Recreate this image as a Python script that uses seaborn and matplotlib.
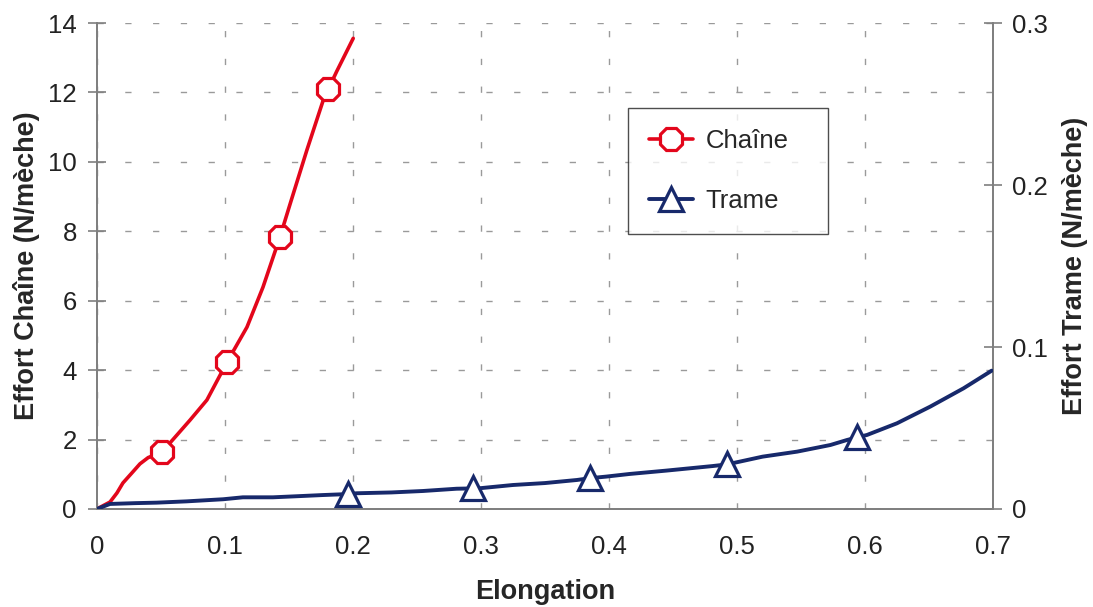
import matplotlib
matplotlib.use("Agg")
import matplotlib.pyplot as plt
from matplotlib.lines import Line2D
import seaborn as sns
import pandas as pd

# Chaine curve (left axis, N/meche)
chaine_x = [0, 0.0102, 0.0156, 0.0203, 0.0271, 0.0336, 0.040, 0.0508, 0.0727, 0.0859, 0.1016,
            0.1172, 0.1297, 0.143, 0.151, 0.164, 0.1768, 0.1807, 0.1872, 0.1937, 0.2002]
chaine_y = [0, 0.20, 0.46, 0.75, 1.03, 1.30, 1.48, 1.64, 2.56, 3.14, 4.23,
            5.24, 6.39, 7.84, 8.80, 10.34, 11.78, 12.09, 12.60, 13.08, 13.56]
chaine_marks = [7, 10, 13, 17]

# Trame curve (right axis, N/meche)
trame_x = [0, 0.0102, 0.03, 0.0466, 0.07, 0.0986, 0.114, 0.1375, 0.16, 0.1766, 0.196, 0.203,
           0.23, 0.2547, 0.281, 0.294, 0.299, 0.325, 0.35, 0.375, 0.385, 0.398, 0.416, 0.445,
           0.481, 0.492, 0.502, 0.520, 0.547, 0.573, 0.586, 0.594, 0.6016, 0.625, 0.651, 0.677, 0.699]
trame_y = [0, 0.0031, 0.0036, 0.0039, 0.0047, 0.0060, 0.0072, 0.0072, 0.0080, 0.0086, 0.0092, 0.0097,
           0.0102, 0.0111, 0.0125, 0.0127, 0.0128, 0.0148, 0.0160, 0.0179, 0.0190, 0.0200, 0.0216, 0.0237,
           0.0265, 0.0275, 0.0292, 0.0323, 0.0354, 0.0395, 0.0426, 0.0442, 0.0457, 0.0529, 0.0632, 0.0745, 0.0854]
trame_marks = [10, 15, 20, 25, 31]

x_ticks = [0, 0.1, 0.2, 0.3, 0.4, 0.5, 0.6, 0.7]
x_labels = ["0", "0.1", "0.2", "0.3", "0.4", "0.5", "0.6", "0.7"]
left_ticks = [0, 2, 4, 6, 8, 10, 12, 14]
right_ticks = [0, 0.1, 0.2, 0.3]
right_labels = ["0", "0.1", "0.2", "0.3"]

red = "#e3061b"
blue = "#17296b"

sns.set_style("white")
plt.rcParams["font.family"] = ["Liberation Sans", "DejaVu Sans"]

fig = plt.figure(figsize=(10.93, 6.07), dpi=100)
ax = fig.add_axes([0.0887, 0.1615, 0.8198, 0.8005])
ax2 = ax.twinx()

df_c = pd.DataFrame({"x": chaine_x, "y": chaine_y})
df_t = pd.DataFrame({"x": trame_x, "y": trame_y})

sns.lineplot(data=df_c, x="x", y="y", ax=ax, color=red, lw=2.6, sort=False,
             marker="8", markevery=chaine_marks, markersize=17, markerfacecolor="white",
             markeredgecolor=red, markeredgewidth=2.3, zorder=4)
sns.lineplot(data=df_t, x="x", y="y", ax=ax2, color=blue, lw=2.8, sort=False,
             marker="^", markevery=trame_marks, markersize=17, markerfacecolor="white",
             markeredgecolor=blue, markeredgewidth=2.3, zorder=4)

ax.set_xlim(0, 0.7)
ax.set_ylim(0, 14)
ax2.set_ylim(0, 0.3)
ax.set_xticks(x_ticks)
ax.set_xticklabels(x_labels)
ax.set_yticks(left_ticks)
ax2.set_yticks(right_ticks)
ax2.set_yticklabels(right_labels)

ax.grid(True, color="#9a9a9a", lw=1.0, linestyle=(0, (4.5, 15.5)))
ax.set_axisbelow(True)

for a in (ax, ax2):
    a.spines["top"].set_visible(False)
    for s in ("left", "right", "bottom"):
        a.spines[s].set_color("#7f7f7f")
        a.spines[s].set_linewidth(1.3)
ax.tick_params(axis="x", direction="out", length=8, width=1.2, color="#7f7f7f",
               labelsize=18.5, labelcolor="#222222", pad=11)
ax.tick_params(axis="y", direction="inout", length=13, width=1.2, color="#7f7f7f",
               labelsize=18.5, labelcolor="#222222", pad=8)
ax2.tick_params(axis="y", direction="inout", length=13, width=1.2, color="#7f7f7f",
                labelsize=18.5, labelcolor="#222222", pad=7)

ax.set_xlabel("Elongation", fontsize=19.5, fontweight="bold", labelpad=14)
ax.set_ylabel("Effort Chaîne (N/mèche)", fontsize=19.5, fontweight="bold", labelpad=6)
ax2.set_ylabel("Effort Trame (N/mèche)", fontsize=19.5, fontweight="bold", labelpad=10)

handles = [
    Line2D([], [], color=red, lw=2.6, marker="8", markersize=17, markerfacecolor="white",
           markeredgecolor=red, markeredgewidth=2.3),
    Line2D([], [], color=blue, lw=2.8, marker="^", markersize=17, markerfacecolor="white",
           markeredgecolor=blue, markeredgewidth=2.3),
]
leg_w = 200 / 896
leg_h = 122 / 486
leg = ax2.legend(handles, ["Chaîne", "Trame"], loc="upper left",
                 bbox_to_anchor=(0.593, 0.825 - leg_h, leg_w, leg_h), mode="expand",
                 borderaxespad=0, frameon=True, fancybox=False, fontsize=18.5,
                 handlelength=1.7, labelspacing=1.42, borderpad=0.8, handletextpad=0.5)
leg.get_frame().set_edgecolor("#222222")
leg.get_frame().set_linewidth(1.0)

fig.savefig("out.png", dpi=100)
